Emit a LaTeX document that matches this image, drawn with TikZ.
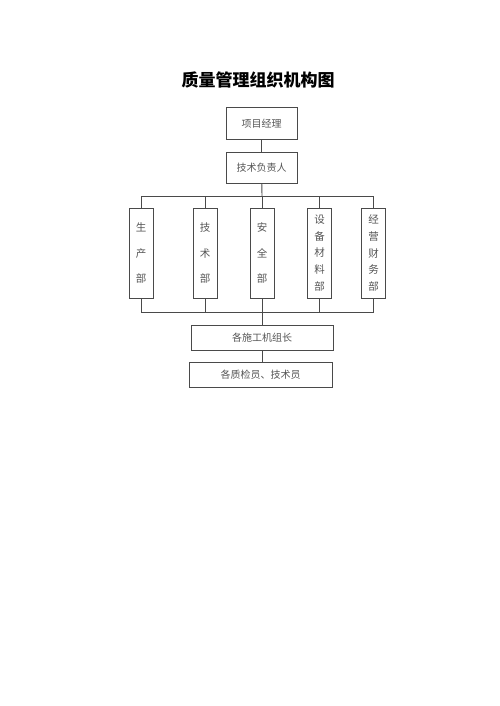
\documentclass[tikz,border=0pt]{standalone}
\usepackage{fontspec}
\newfontfamily\cjk{Noto Sans CJK SC}
\definecolor{linegray}{HTML}{4A4A4A}
\definecolor{textgray}{HTML}{555555}
\tikzset{
  box/.style={draw=linegray, line width=1pt, inner sep=0pt, text=textgray,
    font=\cjk\fontsize{10}{12}\selectfont},
  hbox/.style={box, minimum width=#1, minimum height=25},
  vbox/.style={box, minimum width=24, minimum height=90, align=center,
    font=\cjk\fontsize{10.5}{#1}\selectfont},
  link/.style={draw=linegray, line width=0.9pt},
}

\begin{document}
\begin{tikzpicture}[x=1pt,y=-1pt]
\useasboundingbox (0,0) rectangle (500,706);
\node[font=\cjk\bfseries\fontsize{17}{20}\selectfont] (title) at (258,80) {质量管理组织机构图};

\node[hbox=71, minimum height=31] (pm) at (261.5,123.5) {项目经理};
\node[hbox=71, minimum height=31] (tech) at (261.5,167.5) {技术负责人};

% departments
\foreach \n/\x/\s/\t in {sc/141/25.5/{生\\产\\部},
                         js/205/25.5/{技\\术\\部},
                         aq/262/25.5/{安\\全\\部},
                         sb/319.5/16.7/{设\\备\\材\\料\\部},
                         jy/373.5/16.7/{经\\营\\财\\务\\部}} {
  \node[vbox=\s] (\n) at (\x,253) {\t};
}

\node[hbox=142] (crew) at (262,337.5) {各施工机组长};
\node[hbox=143] (qc) at (260.5,374.5) {各质检员、技术员};

\coordinate (topbus) at (262,196);
\coordinate (botbus) at (262,312);

\draw[link] (pm) -- (tech);
\draw[link] (tech) -- (topbus);
\draw[link] (sc.north |- topbus) -- (jy.north |- topbus);
\draw[link] (sc.south |- botbus) -- (jy.south |- botbus);
\foreach \n in {sc,js,aq,sb,jy} {
  \draw[link] (\n.north) -- (\n.north |- topbus);
  \draw[link] (\n.south) -- (\n.south |- botbus);
}
\draw[link] (botbus) -- (crew);
\draw[link] (crew.south) -- (crew.south |- qc.north);
\end{tikzpicture}
\end{document}
